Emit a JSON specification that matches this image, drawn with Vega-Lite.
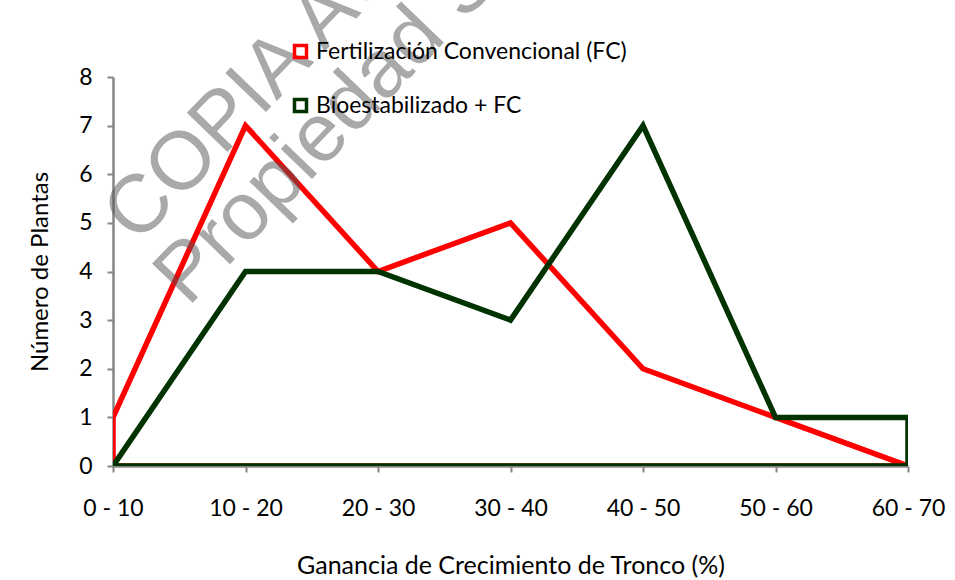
{
  "$schema": "https://vega.github.io/schema/vega-lite/v6.json",
  "width": 795,
  "height": 389,
  "autosize": {"type": "none"},
  "padding": {"left": 113, "top": 77, "right": 47, "bottom": 114},
  "background": "white",
  "config": {
    "view": {"stroke": null},
    "font": "Lato",
    "legend": {"labelFont": "Lato", "titleFont": "Lato"},
    "axis": {"labelFont": "Lato", "titleFont": "Lato"}
  },
  "data": {
    "values": [
      {"rango": "0 - 10", "serie": "Fertilización Convencional (FC)", "plantas": 1},
      {"rango": "10 - 20", "serie": "Fertilización Convencional (FC)", "plantas": 7},
      {"rango": "20 - 30", "serie": "Fertilización Convencional (FC)", "plantas": 4},
      {"rango": "30 - 40", "serie": "Fertilización Convencional (FC)", "plantas": 5},
      {"rango": "40 - 50", "serie": "Fertilización Convencional (FC)", "plantas": 2},
      {"rango": "50 - 60", "serie": "Fertilización Convencional (FC)", "plantas": 1},
      {"rango": "60 - 70", "serie": "Fertilización Convencional (FC)", "plantas": 0},
      {"rango": "0 - 10", "serie": "Bioestabilizado + FC", "plantas": 0},
      {"rango": "10 - 20", "serie": "Bioestabilizado + FC", "plantas": 4},
      {"rango": "20 - 30", "serie": "Bioestabilizado + FC", "plantas": 4},
      {"rango": "30 - 40", "serie": "Bioestabilizado + FC", "plantas": 3},
      {"rango": "40 - 50", "serie": "Bioestabilizado + FC", "plantas": 7},
      {"rango": "50 - 60", "serie": "Bioestabilizado + FC", "plantas": 1},
      {"rango": "60 - 70", "serie": "Bioestabilizado + FC", "plantas": 1}
    ]
  },
  "encoding": {
    "x": {
      "field": "rango", "type": "ordinal",
      "scale": {"type": "point", "padding": 0},
      "axis": {
        "title": "Ganancia de Crecimiento de Tronco (%)",
        "labelAngle": 0, "labelFontSize": 23, "labelColor": "black",
        "labelPadding": 25, "tickSize": 6, "tickWidth": 2, "tickColor": "#868686",
        "domainColor": "#868686", "domainWidth": 2.5,
        "titleFontSize": 25, "titleFontWeight": "normal", "titleColor": "black",
        "titlePadding": 33, "grid": false
      }
    },
    "y": {
      "field": "plantas", "type": "quantitative", "stack": null,
      "scale": {"domain": [0, 8]},
      "axis": {
        "title": "Número de Plantas",
        "values": [0, 1, 2, 3, 4, 5, 6, 7, 8],
        "labelFontSize": 23, "labelColor": "black", "labelPadding": 15,
        "tickSize": 6, "tickWidth": 2, "tickColor": "#868686",
        "domainColor": "#868686", "domainWidth": 2.5,
        "titleFontSize": 24, "titleFontWeight": "normal", "titleColor": "black",
        "titlePadding": 26, "grid": false
      }
    }
  },
  "layer": [
    {
      "transform": [{"filter": "datum.serie === 'Fertilización Convencional (FC)'"}],
      "mark": {"type": "area", "clip": true, "fill": "transparent", "strokeWidth": 5.5, "strokeJoin": "miter"},
      "encoding": {
        "stroke": {
          "field": "serie", "type": "nominal",
          "scale": {"domain": ["Fertilización Convencional (FC)", "Bioestabilizado + FC"], "range": ["#FF0000", "#003300"]},
          "legend": {
            "title": null, "orient": "none", "legendX": 176, "legendY": -37,
            "symbolType": "square", "symbolSize": 144, "symbolStrokeWidth": 3.5,
            "symbolFillColor": "white", "labelFontSize": 23, "labelColor": "black",
            "labelOffset": 4, "rowPadding": 27, "labelLimit": 450
          }
        }
      }
    },
    {
      "transform": [{"filter": "datum.serie === 'Bioestabilizado + FC'"}],
      "mark": {"type": "area", "clip": true, "fill": "transparent", "strokeWidth": 5.5, "strokeJoin": "miter"},
      "encoding": {
        "stroke": {"field": "serie", "type": "nominal"}
      }
    },
    {
      "transform": [{"filter": "datum.rango === '0 - 10' && datum.plantas === 1"}],
      "mark": {"type": "text", "text": "COPIA AU", "font": "Liberation Sans", "fontSize": 82, "angle": -46, "align": "left", "baseline": "alphabetic", "dx": 35, "color": "#555555", "opacity": 0.5},
      "encoding": {"x": {"datum": "0 - 10"}, "y": {"datum": 4.02}}
    },
    {
      "transform": [{"filter": "datum.rango === '0 - 10' && datum.plantas === 1"}],
      "mark": {"type": "text", "text": "Propiedad S", "font": "Liberation Sans", "fontSize": 82, "angle": -46, "align": "left", "baseline": "alphabetic", "dx": 108, "color": "#555555", "opacity": 0.5},
      "encoding": {"x": {"datum": "0 - 10"}, "y": {"datum": 1.66}}
    }
  ]
}
